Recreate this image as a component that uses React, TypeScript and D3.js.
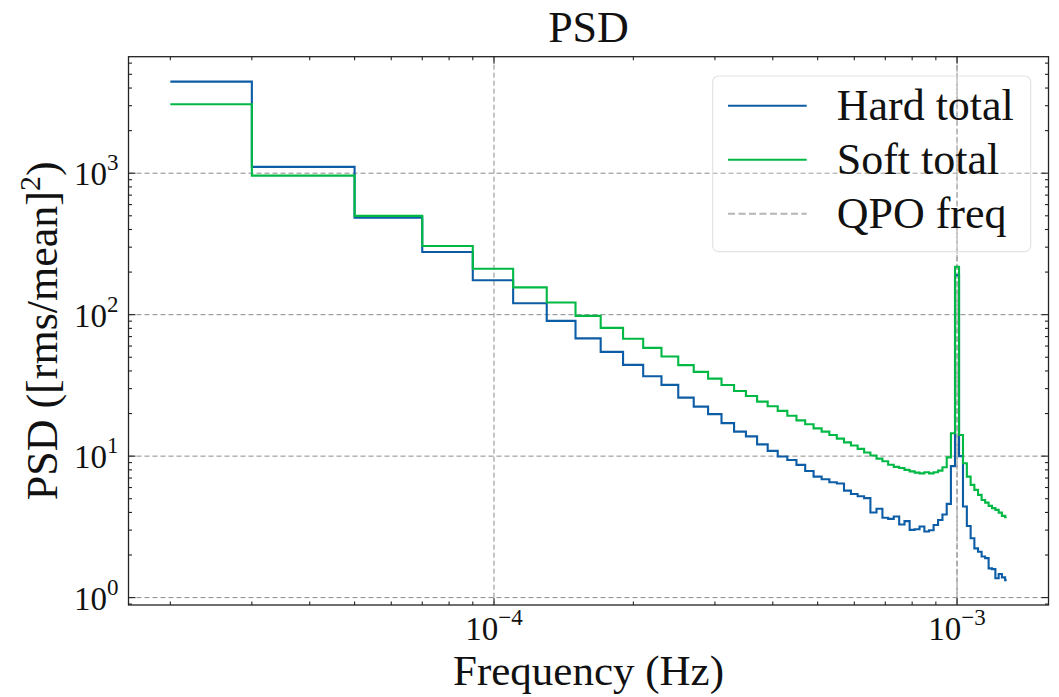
import React from 'react';
import * as d3 from 'd3';

// ---------- data ----------
const FREQ_RES = 2e-5; // Hz, frequency resolution of the periodogram
const hardTotal = [
  4440, 1109, 485, 277, 175, 120.5, 90.4, 68, 54.6, 44.2,
  36.7, 31.9, 25.9, 22.4, 19.8, 17.1, 14.9, 13.8, 12.1, 10.9,
  9.93, 9.4, 8.67, 7.86, 7.16, 6.87, 6.54, 6.4, 5.7, 5.4,
  5.2, 5.05, 4.0, 4.25, 3.67, 3.6, 3.74, 3.29, 3.47, 3.01,
  3.04, 3.18, 2.93, 2.99, 3.26, 3.54, 3.87, 4.6, 8.5, 190,
  10, 4.4, 3.21, 2.63, 2.23, 2.11, 1.95, 1.9, 1.61, 1.59,
  1.37, 1.47, 1.39, 1.33,
];
const softTotal = [
  3075, 962, 499, 306, 211, 156, 122, 98, 80.7, 67.5,
  58.2, 50.6, 44, 39.4, 35.3, 31.8, 28.9, 26.6, 24.3, 22.5,
  20.9, 19.3, 17.9, 16.8, 15.7, 14.9, 14.1, 13.3, 12.5, 11.9,
  11.25, 10.6, 10.1, 9.6, 9.2, 8.7, 8.4, 8.25, 8.0, 7.8,
  7.65, 7.55, 7.7, 7.55, 7.7, 7.9, 8.35, 9.8, 14.5, 218,
  14.1, 8.9, 7.16, 6.26, 5.77, 5.32, 4.9, 4.69, 4.45, 4.29,
  4.17, 3.99, 3.78, 3.7,
];
const QPO_FREQ = 1e-3;
const seriesNames = ['Hard total', 'Soft total'];
const qpoLabel = 'QPO freq';
const xMajorTicks = [1e-4, 1e-3];
const yMajorTicks = [1, 10, 100, 1000];
const titleText = 'PSD';
const xLabelText = 'Frequency (Hz)';

// ---------- styling ----------
const W = 1059;
const H = 697;
const M = { left: 128.5, right: 1048.5, top: 56.7, bottom: 605 };
const COLORS = ['#0C5DA5', '#00B945'];
const FONT = "'Liberation Serif', 'DejaVu Serif', serif";
const GRID = '#8a8a8a';

function expOf(v: number) {
  const e = Math.round(Math.log10(v));
  return e < 0 ? '\u2212' + Math.abs(e) : String(e);
}

export default function App() {
  const freq = hardTotal.map((_, i) => (i + 1) * FREQ_RES);

  // matplotlib-like 5% margins in log space
  const lx = d3.extent(freq).map(Math.log10) as [number, number];
  const allY = hardTotal.concat(softTotal);
  const ly = d3.extent(allY).map(Math.log10) as [number, number];
  const px = 0.05 * (lx[1] - lx[0]);
  const py = 0.05 * (ly[1] - ly[0]);

  const x = d3.scaleLog().domain([10 ** (lx[0] - px), 10 ** (lx[1] + px)]).range([M.left, M.right]);
  const y = d3.scaleLog().domain([10 ** (ly[0] - py), 10 ** (ly[1] + py)]).range([M.bottom, M.top]);
  const [x0, x1] = x.domain();
  const [y0, y1] = y.domain();

  // step (where='mid', midpoints in data space)
  const stepPts = (vals: number[]) => {
    const pts: [number, number][] = [];
    vals.forEach((v, i) => {
      const a = i === 0 ? freq[0] : (freq[i - 1] + freq[i]) / 2;
      const b = i === vals.length - 1 ? freq[i] : (freq[i] + freq[i + 1]) / 2;
      pts.push([a, v], [b, v]);
    });
    return pts;
  };
  const line = d3.line<[number, number]>().x(d => x(d[0])).y(d => y(d[1]));

  const minor = (lo: number, hi: number) => {
    const out: number[] = [];
    for (let d = Math.floor(Math.log10(lo)) - 1; d <= Math.ceil(Math.log10(hi)); d++) {
      for (let k = 2; k <= 9; k++) {
        const v = k * 10 ** d;
        if (v >= lo && v <= hi) out.push(v);
      }
    }
    return out;
  };
  const xMinor = minor(x0, x1);
  const yMinor = minor(y0, y1);

  const MAJ = 7;
  const MIN = 3.5;

  const legendX = 712.7;
  const legendY = 76;
  const rowH = 54;
  const txt = { fontFamily: FONT, fill: '#111' } as React.CSSProperties;

  return (
    <svg width={W} height={H} style={{ position: 'absolute', left: 0, top: 0, background: '#fff', fontFamily: FONT }}>
      <rect x={0} y={0} width={W} height={H} fill="#fff" />
      {/* grid */}
      {xMajorTicks.map(t => (
        <line key={'gx' + t} x1={x(t)} x2={x(t)} y1={M.top} y2={M.bottom} stroke={GRID} strokeWidth={1} strokeDasharray="5,3" />
      ))}
      {yMajorTicks.map(t => (
        <line key={'gy' + t} x1={M.left} x2={M.right} y1={y(t)} y2={y(t)} stroke={GRID} strokeWidth={1} strokeDasharray="5,3" />
      ))}
      {/* QPO line */}
      <line x1={x(QPO_FREQ)} x2={x(QPO_FREQ)} y1={M.top} y2={M.bottom} stroke="#9e9e9e" strokeOpacity={0.8} strokeWidth={1.5} strokeDasharray="6,3" />
      {/* data */}
      <g fill="none" strokeWidth={2.1} strokeLinejoin="miter">
        <path d={line(stepPts(hardTotal)) || ''} stroke={COLORS[0]} />
        <path d={line(stepPts(softTotal)) || ''} stroke={COLORS[1]} />
      </g>
      {/* spines */}
      <rect x={M.left} y={M.top} width={M.right - M.left} height={M.bottom - M.top} fill="none" stroke="#222" strokeWidth={1.3} />
      {/* ticks */}
      <g stroke="#222" strokeWidth={1.1}>
        {xMajorTicks.map(t => (
          <g key={'xt' + t}>
            <line x1={x(t)} x2={x(t)} y1={M.bottom} y2={M.bottom - MAJ} />
            <line x1={x(t)} x2={x(t)} y1={M.top} y2={M.top + MAJ} />
          </g>
        ))}
        {xMinor.map(t => (
          <g key={'xm' + t}>
            <line x1={x(t)} x2={x(t)} y1={M.bottom} y2={M.bottom - MIN} />
            <line x1={x(t)} x2={x(t)} y1={M.top} y2={M.top + MIN} />
          </g>
        ))}
        {yMajorTicks.map(t => (
          <g key={'yt' + t}>
            <line x1={M.left} x2={M.left + MAJ} y1={y(t)} y2={y(t)} />
            <line x1={M.right} x2={M.right - MAJ} y1={y(t)} y2={y(t)} />
          </g>
        ))}
        {yMinor.map(t => (
          <g key={'ym' + t}>
            <line x1={M.left} x2={M.left + MIN} y1={y(t)} y2={y(t)} />
            <line x1={M.right} x2={M.right - MIN} y1={y(t)} y2={y(t)} />
          </g>
        ))}
      </g>
      {/* tick labels */}
      <g>
        {xMajorTicks.map(t => (
          <text key={'xl' + t} x={x(t)} y={640} textAnchor="middle" fontSize={33} style={txt}>
            10<tspan fontSize={23} dy={-15}>{expOf(t)}</tspan>
          </text>
        ))}
        {yMajorTicks.map(t => (
          <text key={'yl' + t} x={M.left - 10} y={y(t) + 12} textAnchor="end" fontSize={33} style={txt}>
            10<tspan fontSize={23} dy={-15}>{expOf(t)}</tspan>
          </text>
        ))}
      </g>
      {/* title & axis labels */}
      <text x={(M.left + M.right) / 2} y={42} textAnchor="middle" fontSize={44} style={txt}>{titleText}</text>
      <text x={(M.left + M.right) / 2} y={685} textAnchor="middle" fontSize={43} style={txt}>{xLabelText}</text>
      <text transform={`translate(57, ${(M.top + M.bottom) / 2}) rotate(-90)`} textAnchor="middle" fontSize={44} style={txt}>
        PSD ([rms/mean]<tspan fontSize={30} dy={-17}>2</tspan><tspan dy={17}>)</tspan>
      </text>
      {/* legend */}
      <g>
        <rect x={legendX} y={legendY} width={318} height={175.7} rx={6} ry={6} fill="#fff" fillOpacity={0.2} stroke="#e3e3e3" strokeWidth={1.2} />
        {seriesNames.map((n, i) => (
          <g key={n}>
            <line x1={728} x2={806.7} y1={legendY + 29.7 + i * rowH} y2={legendY + 29.7 + i * rowH} stroke={COLORS[i]} strokeWidth={2.1} />
            <text x={836.7} y={legendY + 44 + i * rowH} fontSize={44} style={txt}>{n}</text>
          </g>
        ))}
        <line x1={728} x2={806.7} y1={legendY + 29.7 + 2 * rowH} y2={legendY + 29.7 + 2 * rowH} stroke="#b5b5b5" strokeWidth={2} strokeDasharray="7,3.5" />
        <text x={836.7} y={legendY + 44 + 2 * rowH} fontSize={44} style={txt}>{qpoLabel}</text>
      </g>
    </svg>
  );
}
